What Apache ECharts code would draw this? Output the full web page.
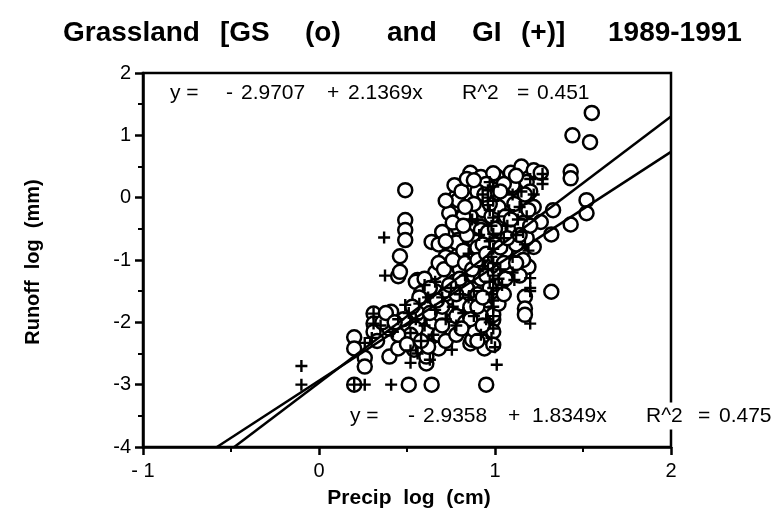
<!DOCTYPE html>
<html><head><meta charset="utf-8">
<script src="https://cdn.jsdelivr.net/npm/echarts@6/dist/echarts.min.js"></script>
<style>html,body{margin:0;padding:0;background:#fff}#c{width:779px;height:526px}</style>
</head><body><div id="c"></div>
<script>
// ---- data ----
const titleWords = ['Grassland', '[GS', '(o)', 'and', 'GI', '(+)]', '1989-1991'];
const xTitle = 'Precip  log  (cm)';
const yTitle = 'Runoff  log  (mm)';
const xRange = [-1, 2];
const yRange = [-4, 2];

// GS (circles)
const gsPoints = [
  [1.55,1.36],[1.44,1.00],[1.54,0.89],[1.43,0.42],[1.43,0.31],[1.52,-0.04],[1.52,-0.25],[1.43,-0.43],
  [1.32,-0.59],[1.33,-0.20],[1.26,-0.39],[1.22,-0.79],[1.19,-1.11],[1.32,-1.51],[1.17,-1.59],[1.17,-1.78],[1.17,-1.88],
  [0.86,0.40],[0.92,0.33],[1.01,0.34],[1.09,0.40],[1.15,0.50],[1.22,0.44],[1.26,0.40],[0.78,0.02],[0.86,0.18],
  [0.86,-0.03],[0.93,-0.20],[1.07,-0.03],[1.14,-0.03],[1.22,-0.15],[0.92,-0.47],[1.03,-0.41],[0.95,-0.68],
  [0.80,-0.57],[0.78,-0.84],[0.88,-0.84],[0.64,-0.71],[0.79,-0.04],[0.79,-0.33],[0.86,-0.30],[0.74,-0.57],
  [0.79,-0.49],[0.79,-0.68],[0.86,-0.49],[0.92,-0.52],[0.75,-0.84],[0.79,-0.92],[0.85,-0.84],[0.88,-0.68],
  [0.92,-0.92],[0.74,-1.05],[0.81,-1.11],[0.99,0.39],
  [0.49,0.12],[0.49,-0.36],[0.49,-0.52],[0.49,-0.68],[0.46,-0.94],[0.45,-1.26],[0.56,-1.32],[0.46,-1.19],
  [0.55,-1.35],[0.41,-1.83],
  [0.20,-2.24],[0.20,-2.42],[0.26,-2.57],[0.26,-2.71],[0.31,-1.86],[0.31,-2.02],[0.31,-2.15],[0.40,-2.55],
  [0.45,-2.42],[0.20,-3.0],[0.51,-3.0],[0.64,-3.0],[0.95,-3.0],[0.54,-2.44],[0.59,-2.44],[0.61,-2.66],
  [0.61,-2.55],[0.68,-2.42],[0.62,-2.39],[0.64,-2.15],[0.64,-1.94],[0.61,-2.12],[0.65,-1.99],[0.69,-1.88],
  [0.75,-2.10],[0.75,-1.78],[0.75,-1.60],[0.62,-1.69],[0.58,-1.53],[0.86,-2.34],[0.87,-2.28],[0.94,-2.42],
  [0.95,-1.83],[0.99,-1.96],[0.97,-2.12],[0.88,-2.12],[0.84,-1.53],[1.04,-1.35],[0.99,-1.88],[0.99,-2.15],[0.99,-2.36],
  [0.70,-0.55],[0.72,-0.95],[0.74,-1.20],[0.70,-1.35],[0.66,-1.50],[0.72,-1.55],[0.77,-1.35],[0.80,-1.15],
  [0.78,-0.72],[0.82,-0.30],[0.84,-0.60],[0.86,-1.00],[0.88,-1.25],[0.84,-1.45],[0.80,-1.70],[0.78,-1.90],
  [0.83,-2.00],[0.86,-1.75],[0.90,-1.55],[0.92,-1.30],[0.94,-1.05],[0.90,-0.80],[0.96,-0.55],[0.98,-0.30],
  [1.02,-0.15],[1.00,-0.75],[1.02,-1.00],[1.00,-1.20],[0.97,-1.45],[0.96,-1.65],[0.92,-1.90],[1.04,-0.55],
  [1.06,-0.85],[1.08,-1.10],[1.06,-0.30],[1.10,-0.50],[1.12,-0.75],[1.13,-0.20],[1.15,-0.45],[1.16,-1.00],
  [1.18,-0.65],[1.14,-1.25],[1.10,0.20],[1.05,0.22],[0.95,0.22],[0.90,0.10],[1.18,0.25],[1.20,0.10],
  [0.74,-0.25],[0.72,-0.05],[0.77,0.20],[0.70,-1.75],[0.68,-2.20],[0.72,-2.30],[0.78,-2.20],[0.66,-1.20],
  [0.60,-1.75],[0.56,-1.85],[0.55,-2.10],[0.52,-2.20],[0.48,-1.95],[0.45,-2.20],[0.40,-2.10],[0.36,-2.00],[0.38,-1.85],
  [0.68,-1.05],[0.71,-1.15],[0.76,-1.00],[0.82,-0.85],[0.83,-1.05],[0.87,-1.15],[0.90,-1.00],[0.93,-0.75],
  [0.95,-0.90],[0.98,-1.10],[1.00,-0.95],[1.03,-0.80],[1.05,-1.05],[1.07,-0.65],[1.09,-0.35],[1.11,-0.10],
  [1.00,-0.50],[0.97,-0.10],[0.94,0.05],[0.88,-0.10],[0.83,-0.15],[0.81,0.10],[0.84,0.30],[0.88,0.28],
  [1.03,0.10],[1.12,0.35],[1.17,0.05],[1.19,-0.20],[1.20,-0.45],[1.14,-0.60],[1.12,-1.05],[1.06,-1.30],
  [1.00,-1.60],[0.95,-1.25],[0.90,-1.75],[0.86,-1.95],[0.81,-2.10],[0.90,-2.30],[0.93,-2.05],[0.70,-2.05],
  [0.67,-1.65],[0.63,-1.85],[0.58,-2.30],[0.50,-2.35],[0.43,-2.00],[0.33,-2.30],[0.68,-0.75],[0.72,-0.70],
  [0.76,-0.40],[0.82,-0.45],[0.80,-1.30],[0.78,-1.55],[0.74,-1.40],[0.93,-1.60],[1.02,-1.70],[1.05,-1.55],
  [0.60,-1.30],[0.63,-1.45],[0.57,-1.60],[0.53,-1.75]
];

// GI (plus signs)
const giPoints = [
  [-0.10,-2.70],[-0.10,-3.0],[0.20,-3.0],[0.26,-3.0],[0.41,-3.0],[0.26,-2.33],[0.31,-1.86],[0.31,-2.02],
  [0.49,-1.72],[0.375,-1.25],[0.52,-2.65],[0.37,-0.64],[0.755,-2.44],[1.01,-2.68],[1.11,-1.32],[1.20,-1.29],
  [1.20,-2.02],[1.20,-1.45],[1.20,-1.50],[0.96,0.12],[0.96,0.00],[0.96,-0.12],[1.27,0.38],[1.27,0.30],[1.27,0.22],
  [0.97,0.25],[0.97,-0.20],[0.98,-0.45],[0.97,-0.70],[0.98,-0.95],[0.96,-1.15],[0.97,-1.35],[0.98,-1.55],
  [0.99,-1.75],[0.97,-2.00],[0.98,-2.25],[0.93,-1.10],[0.88,-1.50],[0.83,-1.25],[0.80,-1.55],[0.76,-1.75],
  [0.72,-1.95],[0.66,-1.80],[0.62,-1.60],[0.60,-2.05],[0.58,-2.30],[0.55,-1.95],[0.51,-1.85],[0.52,-2.17],
  [0.52,-2.45],[1.05,-0.65],[1.10,-0.95],[1.13,-0.35],[1.16,-0.55],[1.19,-0.85],[1.15,0.10],[1.20,0.30],
  [1.10,-1.20],[1.04,-1.40],[0.42,-2.15],[0.35,-2.05],[0.30,-2.25],[0.45,-1.95],[0.85,-0.90],[0.90,-0.35],
  [0.93,0.05],[1.03,-1.15],[1.08,-0.20],[0.63,-2.60],
  [0.99,0.18],[0.99,-0.05],[0.99,-0.32],[0.99,-0.58],[0.99,-0.82],[0.99,-1.05],[0.99,-1.25],[0.99,-1.45],
  [0.99,-1.65],[0.99,-1.90],[0.99,-2.10],[1.00,-2.40],[0.95,-1.95],[0.92,-2.20],[0.88,-1.90],[0.85,-1.60],
  [0.82,-1.85],[0.78,-2.05],[0.75,-1.45],[0.70,-1.60],[0.65,-2.20],[0.57,-1.70],[0.60,-1.40],[0.66,-1.35],
  [0.56,-2.50],[1.02,-0.30],[1.07,-0.45],[1.12,-0.60],[1.17,-0.75],[1.14,-0.15],[1.18,-0.30],[1.22,0.05],
  [1.10,0.05],[1.02,-1.30],[0.91,-0.60],[0.87,-0.35]
];

// regression fits printed on the chart
const fitTop = {intercept: -2.9707, slope: 2.1369, r2: '0.451'};
const fitBottom = {intercept: -2.9358, slope: 1.8349, r2: '0.475'};

// ---- chart ----
const FONT = '"Liberation Sans", Arial, Helvetica, sans-serif';
function fitLine(f) {
  const x0 = (yRange[0] - f.intercept) / f.slope;
  return [[x0, yRange[0]], [xRange[1], f.intercept + f.slope * xRange[1]]];
}
function fitTokens(f) {
  return ['y =', '-', Math.abs(f.intercept).toFixed(4), '+', f.slope.toFixed(4) + 'x', 'R^2', '=', f.r2];
}
const PLUS = 'path://M4,0H6V4H10V6H6V10H4V6H0V4H4Z';

const chart = echarts.init(document.getElementById('c'), null, {renderer: 'canvas'});

const graphics = [];
const titleX = [63, 220, 305, 387, 472, 521, 608];
titleWords.forEach((w, i) => graphics.push({
  type: 'text', left: titleX[i], top: 19, z: 10,
  style: {text: w, font: 'bold 28px ' + FONT, fill: '#000'}
}));
function addAnn(tokens, xs, cy, bgIdx) {
  tokens.forEach((t, i) => graphics.push({
    type: 'text', x: xs[i], y: cy, z: 20,
    style: Object.assign({text: t, font: '21px ' + FONT, fill: '#000', verticalAlign: 'middle', align: 'left'},
      (bgIdx != null && i >= bgIdx) ? {backgroundColor: '#fff', padding: [3, 1]} : {})
  }));
}
addAnn(fitTokens(fitTop), [170, 226, 241, 327, 348, 462, 517, 537], 93);
addAnn(fitTokens(fitBottom), [350, 408, 423, 508, 532, 645, 697, 718], 416, 5);
graphics.push({type: 'text', x: 409, y: 498, z: 10,
  style: {text: xTitle, font: 'bold 21px ' + FONT, fill: '#000', align: 'center', verticalAlign: 'middle'}});
graphics.push({type: 'text', x: 33, y: 262, rotation: Math.PI / 2, z: 10,
  style: {text: yTitle, font: 'bold 20px ' + FONT, fill: '#000', align: 'center', verticalAlign: 'middle'}});

const axisCommon = {
  type: 'value', interval: 1,
  axisLine: {show: true, onZero: false, lineStyle: {color: '#000', width: 2.5}},
  axisTick: {show: true, length: 8, lineStyle: {color: '#000', width: 2.5}},
  minorTick: {show: true, splitNumber: 2, length: 5, lineStyle: {color: '#000', width: 2}},
  splitLine: {show: false}, minorSplitLine: {show: false}
};

chart.setOption({
  animation: false,
  backgroundColor: '#fff',
  grid: {left: 143, right: 108, top: 73, bottom: 79, show: true, borderColor: '#000', borderWidth: 2.5, backgroundColor: 'transparent'},
  xAxis: Object.assign({}, axisCommon, {
    min: xRange[0], max: xRange[1],
    axisLabel: {color: '#000', fontSize: 20, fontFamily: FONT, margin: 14,
      formatter: v => v < 0 ? '- ' + Math.abs(v) : String(v)}
  }),
  yAxis: Object.assign({}, axisCommon, {
    min: yRange[0], max: yRange[1],
    axisLabel: {color: '#000', fontSize: 20, fontFamily: FONT, margin: 12}
  }),
  series: [
    {type: 'scatter', name: 'GS', data: gsPoints, symbol: 'circle', symbolSize: 14, z: 2,
      itemStyle: {color: '#fff', borderColor: '#000', borderWidth: 2.5, opacity: 1}},
    {type: 'line', data: fitLine(fitTop), showSymbol: false, symbol: 'none', z: 3,
      lineStyle: {color: '#000', width: 2.5}},
    {type: 'line', data: fitLine(fitBottom), showSymbol: false, symbol: 'none', z: 3,
      lineStyle: {color: '#000', width: 2.5}},
    {type: 'scatter', name: 'GI', data: giPoints, symbol: PLUS, symbolSize: 12, z: 4,
      itemStyle: {color: '#000', opacity: 1}}
  ],
  graphic: graphics
});
</script>
</body></html>
